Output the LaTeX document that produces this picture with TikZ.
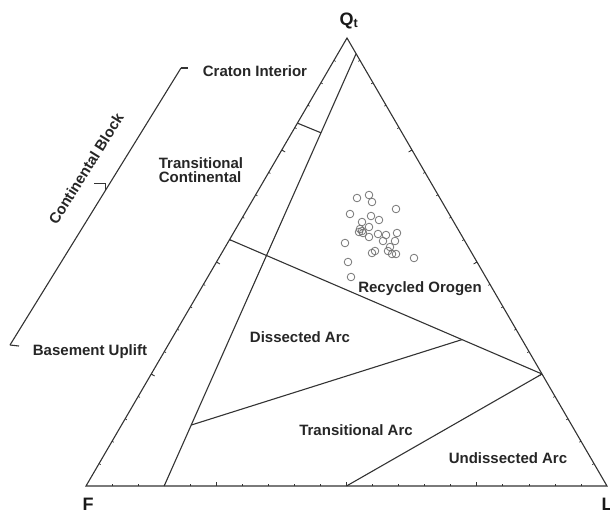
\documentclass[tikz,border=0pt]{standalone}
\usepackage{fontspec}
\setmainfont{Liberation Sans}
\usetikzlibrary{calc}

\begin{document}
\begin{tikzpicture}[x=1pt,y=-1pt,line width=1.1pt,draw=black!80,
    field/.style={font=\fontsize{15}{14}\selectfont\bfseries,text=black!85,inner sep=0pt},
    apex/.style={font=\fontsize{18}{20}\selectfont\bfseries,text=black!90,inner sep=0pt},
    datapt/.style={circle,draw=black!55,line width=0.8pt,minimum size=7.6pt,inner sep=0pt}]
    \useasboundingbox (0,0) rectangle (610,515);
    % corners of the QtFL triangle
    \coordinate (Q) at (347,38);
    \coordinate (F) at (86,486);
    \coordinate (L) at (607,486);
    % field boundaries
    \coordinate (a1) at (barycentric cs:Q=0.965,L=0.035);
    \coordinate (a2) at (barycentric cs:F=0.85,L=0.15);
    \coordinate (b1) at (barycentric cs:Q=0.81,F=0.19);
    \coordinate (b2) at ($(a1)!0.183!(a2)$);
    \coordinate (c1) at (barycentric cs:Q=0.55,F=0.45);
    \coordinate (c2) at (barycentric cs:Q=0.25,L=0.75);
    \coordinate (d1) at ($(a1)!0.859!(a2)$);
    \coordinate (d2) at ($(c1)!0.744!(c2)$);
    \coordinate (e1) at (barycentric cs:F=0.5,L=0.5);
    \draw (Q) -- (F) -- (L) -- cycle;
    \draw (a1) -- (a2);
    \draw (b1) -- (b2);
    \draw (c1) -- (c2);
    \draw (d1) -- (d2);
    \draw (e1) -- (c2);
    % ticks on the sides
    \foreach \s/\e in {F/L,L/Q,Q/F}
      \foreach \t in {0.05,0.10,...,0.96} {
        \coordinate (tk) at ($(\s)!\t!(\e)$);
        \draw[line width=0.7pt] (tk) -- ($(tk)!2pt!90:(\e)$);
      }
    \foreach \s/\e in {F/L,L/Q,Q/F}
      \foreach \t in {0.25,0.5,0.75} {
        \coordinate (tk) at ($(\s)!\t!(\e)$);
        \draw[line width=0.8pt] (tk) -- ($(tk)!4pt!90:(\e)$);
      }
    % corner labels
    \node[apex,anchor=base west] (qt) at (339,25) {Q\textsubscript{t}};
    \node[apex,anchor=base west] (f) at (82,510) {F};
    \node[apex,anchor=base west] (l) at (601,510) {L};
    % fields
    \node[field] (craton) at (255,71) {Craton Interior};
    \node[field,align=left] (transcont) at (201,170) {Transitional\\Continental};
    \node[field] (recycled) at (420,289) {Recycled Orogen};
    \node[field] (dissected) at (300,337) {Dissected Arc};
    \node[field] (transarc) at (356,430) {Transitional Arc};
    \node[field] (undissected) at (508,458) {Undissected Arc};
    \node[field] (basement) at (90,352) {Basement Uplift};
    % continental block bracket
    \coordinate (bb) at (10,345);
    \coordinate (bt) at (181,68);
    \coordinate (bm) at ($(bb)!0.56!(bt)$);
    \draw (bb) -- (bt);
    \draw (bt) -- ++(7,0);
    \draw (bb) -- ++(9,1);
    \draw (bm) |- ++(-12,-6);
    \node[field,rotate=58] (block) at (86,169) {Continental Block};
    % sample points
    \foreach \x/\y [count=\i] in {357/198,369/195,372/202,396/209,350/214,
        371/216,379/220,362/222,369/227,360/229,362/231,359/232,363/233,
        369/237,378/234,386/235,397/233,383/241,395/241,345/243,390/247,
        375/251,372/253,388/251,392/254,396/254,414/258,348/262,351/277}
      \node[datapt] (p\i) at (\x,\y) {};
\end{tikzpicture}
\end{document}
